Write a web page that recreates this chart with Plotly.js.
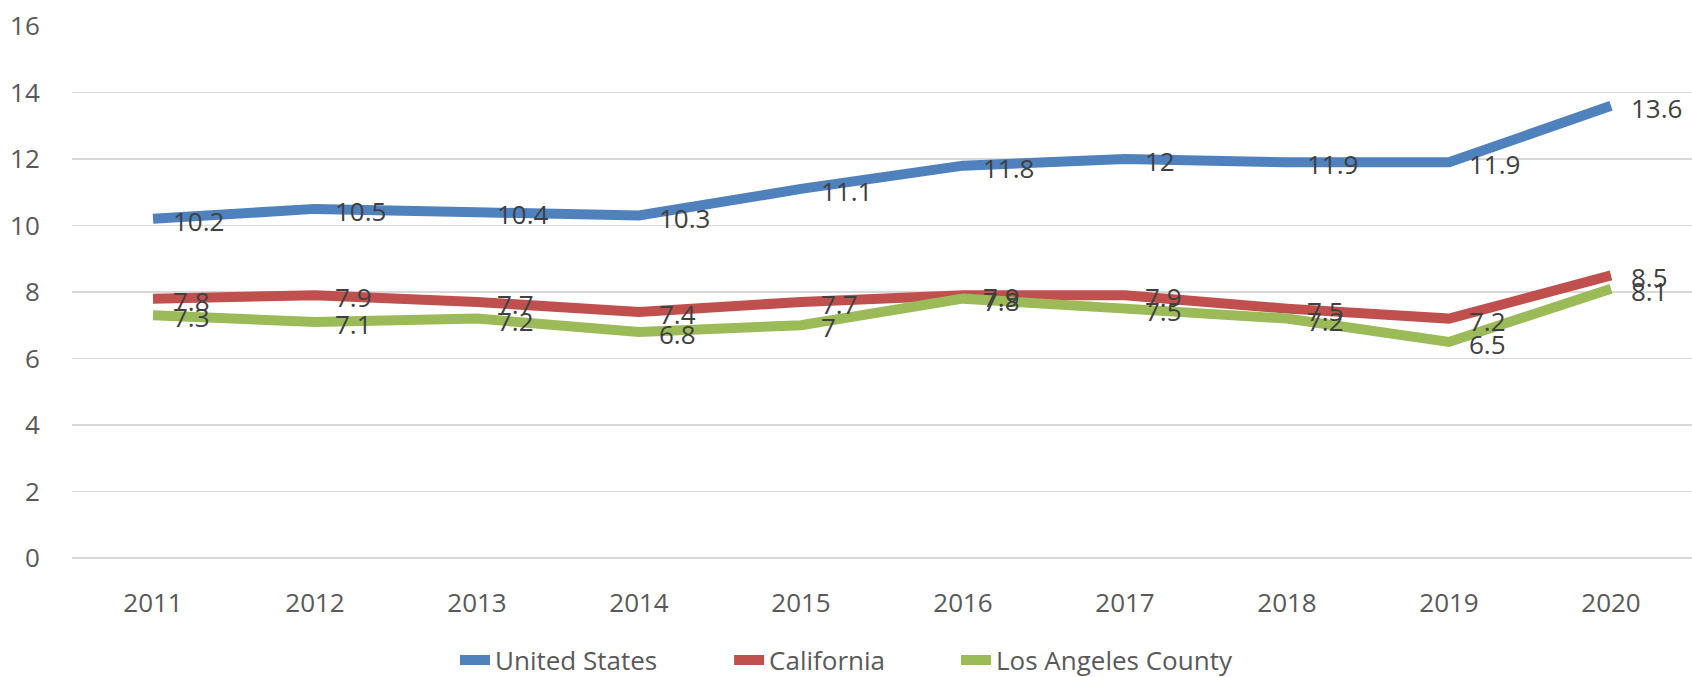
<!DOCTYPE html>
<html>
<head>
<meta charset="utf-8">
<script src="https://cdn.plot.ly/plotly-3.0.1.min.js"></script>
<style>
  html, body { margin: 0; padding: 0; background: #fff; }
  #chart { width: 1692px; height: 677px; }
</style>
</head>
<body>
<div id="chart"></div>
<script>
const years = ['2011','2012','2013','2014','2015','2016','2017','2018','2019','2020'];
const unitedStates = [10.2, 10.5, 10.4, 10.3, 11.1, 11.8, 12, 11.9, 11.9, 13.6];
const california = [7.8, 7.9, 7.7, 7.4, 7.7, 7.9, 7.9, 7.5, 7.2, 8.5];
const losAngelesCounty = [7.3, 7.1, 7.2, 6.8, 7, 7.8, 7.5, 7.2, 6.5, 8.1];
const seriesNames = ['United States', 'California', 'Los Angeles County'];
const seriesColors = ['#4F81BD', '#C0504D', '#9BBB59'];
const seriesValues = [unitedStates, california, losAngelesCounty];

const FONT = 'Open Sans, Liberation Sans, sans-serif';
const legendIds = ['legend', 'legend2', 'legend3'];
const legendX = [0.2689, 0.4309, 0.5650];

const traces = seriesValues.map((vals, i) => ({
  x: years,
  y: vals,
  name: seriesNames[i],
  type: 'scatter',
  mode: 'lines',
  legend: legendIds[i],
  line: { color: seriesColors[i], width: 10, shape: 'linear' },
  hoverinfo: 'skip'
}));

const annotations = [];
seriesValues.forEach((vals) => {
  vals.forEach((v, j) => {
    annotations.push({
      x: j, y: v, xref: 'x', yref: 'y',
      text: String(v),
      showarrow: false,
      xanchor: 'left', yanchor: 'middle',
      xshift: 18, yshift: -2,
      font: { family: FONT, size: 26, color: '#404040' }
    });
  });
});

const layout = {
  width: 1692, height: 677,
  margin: { l: 72, r: 0, t: 26, b: 119, pad: 0 },
  paper_bgcolor: '#ffffff',
  plot_bgcolor: '#ffffff',
  showlegend: true,
  xaxis: {
    type: 'category',
    showgrid: false,
    zeroline: false,
    showline: false,
    ticks: 'outside', ticklen: 22, tickcolor: 'rgba(0,0,0,0)',
    tickfont: { family: FONT, size: 26, color: '#595959' },
    range: [-0.5, 9.5]
  },
  yaxis: {
    range: [0, 16],
    dtick: 2,
    tick0: 0,
    showgrid: true,
    gridcolor: '#D9D9D9',
    gridwidth: 1.5,
    zeroline: true,
    zerolinecolor: '#D9D9D9',
    zerolinewidth: 1.5,
    showline: false,
    ticks: 'outside', ticklen: 26, tickcolor: 'rgba(0,0,0,0)',
    tickfont: { family: FONT, size: 26, color: '#595959' }
  },
  annotations: annotations
};

legendIds.forEach((id, i) => {
  layout[id] = {
    orientation: 'h',
    x: legendX[i], xanchor: 'left', xref: 'container',
    y: 0.025, yanchor: 'middle', yref: 'container',
    font: { family: FONT, size: 26, color: '#595959' },
    bgcolor: 'rgba(0,0,0,0)'
  };
});

Plotly.newPlot('chart', traces, layout, { displayModeBar: false, staticPlot: true });
</script>
</body>
</html>
